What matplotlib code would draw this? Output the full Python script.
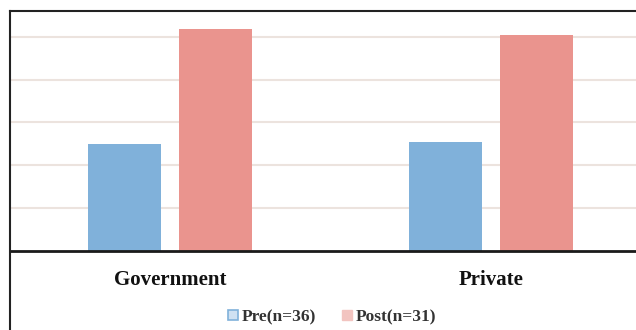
import matplotlib.pyplot as plt
import numpy as np
from matplotlib.lines import Line2D

categories = ['Government', 'Private']
pre = [2.50, 2.55]
post = [5.17, 5.03]
legend_labels = ['Pre(n=36)', 'Post(n=31)']

pre_color = '#80b1da'
post_color = '#ea948e'

W, H = 636, 330
fig = plt.figure(figsize=(W / 100, H / 100), dpi=100)
ax = fig.add_axes([9.5 / W, 1 - 251 / H, 642 / W, 240 / H])

x = np.arange(len(categories))
ax.bar(x - 0.143, pre, width=0.227, color=pre_color, zorder=2)
ax.bar(x + 0.143, post, width=0.227, color=post_color, zorder=2)

ax.set_xlim(-0.5, 1.5)
ax.set_ylim(0, 5.6)
ax.set_yticks([1, 2, 3, 4, 5])
ax.grid(axis='y', color='#ece3de', linewidth=1.5, zorder=0)
ax.tick_params(left=False, labelleft=False, bottom=False, labelbottom=False)
for s in ['top', 'right', 'left']:
    ax.spines[s].set_visible(False)
ax.spines['bottom'].set_linewidth(2)
ax.spines['bottom'].set_color('#1a1a1a')

# category labels below the axis
for xi, name in zip(x, categories):
    ax.text(xi, -0.68, name, ha='center', va='center', fontsize=15,
            fontweight='bold', family='Liberation Serif', color='#111111')

# outer frame (left and top only, right is cropped)
fig.add_artist(Line2D([10 / W, 10 / W], [0, 1 - 11 / H], color='#222222', lw=1.5))
fig.add_artist(Line2D([10 / W, 1], [1 - 11 / H, 1 - 11 / H], color='#222222', lw=1.5))

handles = [
    Line2D([], [], marker='s', linestyle='none', markersize=7,
           markerfacecolor='#cfe1f2', markeredgecolor=pre_color, markeredgewidth=1.2),
    Line2D([], [], marker='s', linestyle='none', markersize=7,
           markerfacecolor='#f2c4c0', markeredgecolor='#f2c4c0'),
]
fig.legend(handles, legend_labels, loc='center', bbox_to_anchor=(330 / W, 1 - 317 / H),
           ncol=2, frameon=False, handletextpad=0.0, columnspacing=1.3, handlelength=1.0,
           prop={'family': 'Liberation Serif', 'weight': 'bold', 'size': 12.5},
           labelcolor='#333333')

fig.savefig('out.png', dpi=100)
